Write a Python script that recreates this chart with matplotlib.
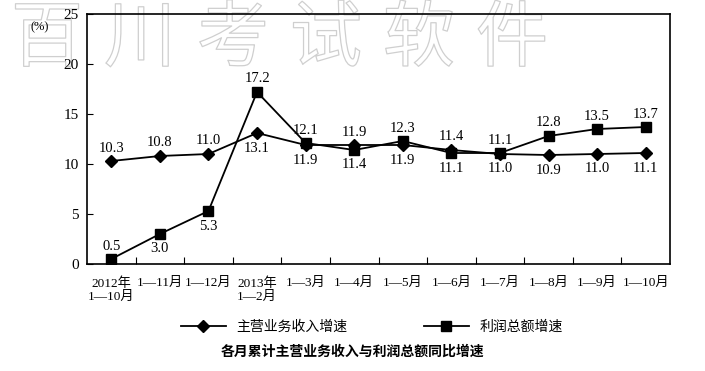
import matplotlib.pyplot as plt
import matplotlib.patheffects as pe

plt.rcParams['font.family'] = ['Liberation Serif', 'Noto Sans CJK SC', 'DejaVu Sans']

categories = ['2012年\n1—10月', '1—11月', '1—12月', '2013年\n1—2月', '1—3月', '1—4月',
              '1—5月', '1—6月', '1—7月', '1—8月', '1—9月', '1—10月']
revenue = [10.3, 10.8, 11.0, 13.1, 11.9, 11.9, 11.9, 11.4, 11.0, 10.9, 11.0, 11.1]
profit = [0.5, 3.0, 5.3, 17.2, 12.1, 11.4, 12.3, 11.1, 11.1, 12.8, 13.5, 13.7]
revenue_pos = ['up', 'up', 'up', 'down', 'down', 'up', 'down', 'up', 'down', 'down', 'down', 'down']
profit_pos = ['up', 'down', 'down', 'up', 'up', 'down', 'up', 'down', 'up', 'up', 'up', 'up']
watermark = '百川考试软件'

fig = plt.figure(figsize=(7.05, 3.71), dpi=100)
ax = fig.add_axes([87 / 705, 1 - 264 / 371, 583 / 705, 250 / 371])
ax.patch.set_alpha(0)

# watermark, outline only
for i, ch in enumerate(watermark):
    fig.text((47 + i * 93) / 705, 1 - 40 / 371, ch, fontsize=52, color='none', ha='center', va='center',
             family=['Noto Sans CJK SC'], style='italic', zorder=-5,
             path_effects=[pe.withStroke(linewidth=0.9, foreground='#cfcfcf')])

x = list(range(len(categories)))
ax.plot(x, revenue, color='black', lw=1.3, marker='D', ms=6.5, label='主营业务收入增速', zorder=3)
ax.plot(x, profit, color='black', lw=1.3, marker='s', ms=7, label='利润总额增速', zorder=3)

for ys, pos in [(revenue, revenue_pos), (profit, profit_pos)]:
    for xi, yi, p in zip(x, ys, pos):
        dy = 13 if p == 'up' else -15
        ax.annotate(f'{yi:.1f}', (xi, yi), xytext=(0, dy), textcoords='offset pixels',
                    ha='center', va='center', fontsize=10.5)

ax.set_xlim(-0.5, len(categories) - 0.5)
ax.set_ylim(0, 25)
ax.set_yticks([0, 5, 10, 15, 20, 25])
ax.tick_params(axis='y', direction='in', length=4, labelsize=11, pad=6)
ax.set_xticks([i + 0.5 for i in range(len(categories) - 1)])
ax.set_xticklabels([])
ax.tick_params(axis='x', direction='in', length=5)
for i, c in enumerate(categories):
    ax.text(i, -1.3, c, ha='center', va='top', fontsize=9.5, linespacing=1.1)

for s in ax.spines.values():
    s.set_linewidth(1.2)

fig.text(40 / 705, 1 - 27 / 371, '(%)', ha='center', va='center', fontsize=9)

ax.legend(loc='center', bbox_to_anchor=(372 / 705, 1 - 327 / 371), bbox_transform=fig.transFigure,
          ncol=2, frameon=False, columnspacing=5.5, handlelength=3.2,
          prop={'family': ['Noto Sans CJK SC'], 'size': 10})
fig.text(0.5, 1 - 352 / 371, '各月累计主营业务收入与利润总额同比增速', ha='center', va='center',
         fontsize=10, fontweight='bold', family=['Noto Sans CJK SC'])

fig.savefig('out.png', dpi=100)
